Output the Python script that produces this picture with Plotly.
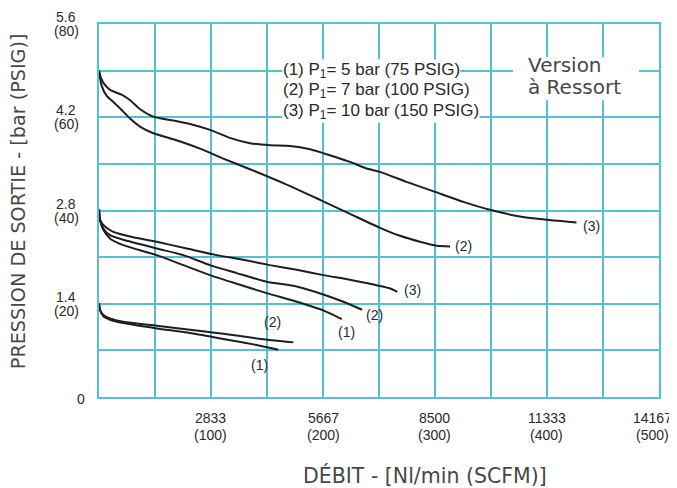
import plotly.graph_objects as go

# ---------------- data ----------------
x_tick_vals = [2833, 5667, 8500, 11333, 14167]
x_tick_nl = ["2833", "5667", "8500", "11333", "14167"]
x_tick_scfm = ["(100)", "(200)", "(300)", "(400)", "(500)"]
y_tick_vals = [1.4, 2.8, 4.2, 5.6]
y_tick_bar = ["1.4", "2.8", "4.2", "5.6"]
y_tick_psig = ["(20)", "(40)", "(60)", "(80)"]

# upper group (set ~4.9 bar)
hi3_x = [0, 50, 130, 280, 570, 780, 1040, 1370, 1880, 2300, 2810, 3310, 3820, 4330, 4830,
         5340, 5840, 6350, 6770, 7110, 7780, 8500, 9220, 9890, 10650, 11330, 12080]
hi3_y = [4.9, 4.79, 4.7, 4.61, 4.54, 4.46, 4.32, 4.21, 4.15, 4.1, 4.01, 3.89, 3.81, 3.78, 3.77,
         3.72, 3.63, 3.53, 3.43, 3.38, 3.23, 3.08, 2.93, 2.81, 2.71, 2.66, 2.62]
hi2_x = [0, 68, 195, 362, 574, 784, 1037, 1374, 1880, 2555, 3144, 3820, 4706, 5591, 6350,
         7109, 7615, 8121, 8543, 8880]
hi2_y = [4.9, 4.67, 4.52, 4.43, 4.31, 4.18, 4.06, 3.96, 3.87, 3.73, 3.58, 3.42, 3.2, 2.96, 2.75,
         2.54, 2.42, 2.33, 2.27, 2.26]

# middle group (set ~2.8 bar)
mid3_x = [0, 25, 152, 362, 784, 1460, 2219, 2978, 3651, 4326, 5002, 5675, 6434, 7370, 7547]
mid3_y = [2.82, 2.66, 2.56, 2.48, 2.41, 2.33, 2.23, 2.13, 2.06, 1.98, 1.91, 1.83, 1.75, 1.63, 1.58]
mid2_x = [0, 25, 109, 278, 615, 1460, 2133, 2808, 3484, 4243, 5002, 5675, 6181, 6654]
mid2_y = [2.82, 2.66, 2.53, 2.43, 2.36, 2.23, 2.13, 1.98, 1.86, 1.73, 1.66, 1.54, 1.43, 1.31]
mid1_x = [0, 25, 109, 278, 615, 1460, 2133, 2808, 3484, 4243, 5002, 5675, 6140]
mid1_y = [2.82, 2.66, 2.51, 2.38, 2.28, 2.13, 1.98, 1.83, 1.7, 1.56, 1.43, 1.3, 1.17]

# lower group (set ~1.4 bar)
lo2_x = [0, 25, 109, 278, 615, 1460, 2302, 3144, 3990, 4916]
lo2_y = [1.41, 1.31, 1.23, 1.18, 1.13, 1.07, 1.01, 0.95, 0.88, 0.82]
lo1_x = [0, 25, 109, 278, 615, 1460, 2302, 3144, 3990, 4536]
lo1_y = [1.41, 1.31, 1.21, 1.16, 1.11, 1.03, 0.96, 0.87, 0.78, 0.71]

curve_label_text = ["(3)", "(2)", "(3)", "(2)", "(1)", "(2)", "(1)"]
curve_label_x = [12470, 9210, 7940, 6960, 6270, 4380, 4050]
curve_label_y = [2.57, 2.26, 1.6, 1.23, 0.98, 1.12, 0.48]

legend_lines = ["(1) P<sub>1</sub>= 5 bar (75 PSIG)",
                "(2) P<sub>1</sub>= 7 bar (100 PSIG)",
                "(3) P<sub>1</sub>= 10 bar (150 PSIG)"]
legend_y = [4.896, 4.595, 4.291]
legend_x = 4630

version_lines = ["Version", "à Ressort"]
version_y = [4.98, 4.65]
version_x = 10800

x_title = "DÉBIT - [Nl/min (SCFM)]"
y_title = "PRESSION DE SORTIE - [bar (PSIG)]"

# ---------------- styles ----------------
GRID = "#52c3cc"
INK = "#1e1e1e"
TXT = "#2a2a2a"
TITLE = "#474747"
FONT = "Liberation Sans"

fig = go.Figure()
for xs, ys in [(hi3_x, hi3_y), (hi2_x, hi2_y), (mid3_x, mid3_y), (mid2_x, mid2_y),
               (mid1_x, mid1_y), (lo2_x, lo2_y), (lo1_x, lo1_y)]:
    fig.add_trace(go.Scatter(x=xs, y=ys, mode="lines",
                             line=dict(color=INK, width=2, shape="spline", smoothing=0.6),
                             hoverinfo="skip", showlegend=False))

ann = []
for t, x, y in zip(curve_label_text, curve_label_x, curve_label_y):
    ann.append(dict(x=x, y=y, text=t, showarrow=False, xanchor="center", yanchor="middle",
                    font=dict(family=FONT, size=14, color=TXT)))

for t, y in zip(legend_lines, legend_y):
    ann.append(dict(x=legend_x, y=y, text=t, showarrow=False, xanchor="left", yanchor="middle",
                    bgcolor="white", borderpad=0, height=21,
                    font=dict(family=FONT, size=17, color=TXT)))

for t, y in zip(version_lines, version_y):
    ann.append(dict(x=version_x, y=y, text=t, showarrow=False, xanchor="left", yanchor="middle",
                    font=dict(family="DejaVu Sans", size=20, color=TITLE)))

# tick labels
for v, a, b in zip(x_tick_vals, x_tick_nl, x_tick_scfm):
    xs = -7 if v == x_tick_vals[-1] else 0
    ann.append(dict(x=v, y=0, yref="paper", text=a, showarrow=False, xanchor="center",
                    yanchor="middle", yshift=-21, xshift=xs,
                    font=dict(family=FONT, size=14, color=TXT)))
    ann.append(dict(x=v, y=0, yref="paper", text=b, showarrow=False, xanchor="center",
                    yanchor="middle", yshift=-38, xshift=xs,
                    font=dict(family=FONT, size=14, color=TXT)))
for v, a, b in zip(y_tick_vals, y_tick_bar, y_tick_psig):
    ann.append(dict(x=0, xref="paper", y=v, text=a, showarrow=False, xanchor="center",
                    yanchor="middle", xshift=-33, yshift=7,
                    font=dict(family=FONT, size=14, color=TXT)))
    ann.append(dict(x=0, xref="paper", y=v, text=b, showarrow=False, xanchor="center",
                    yanchor="middle", xshift=-33, yshift=-7,
                    font=dict(family=FONT, size=14, color=TXT)))
ann.append(dict(x=0, xref="paper", y=0, text="0", showarrow=False, xanchor="center",
                yanchor="middle", xshift=-18, yshift=-2,
                font=dict(family=FONT, size=14, color=TXT)))

# axis titles
ann.append(dict(x=0.5816, xref="paper", y=0, yref="paper", text=x_title, showarrow=False,
                xanchor="center", yanchor="middle", yshift=-78,
                font=dict(family="DejaVu Sans", size=20.5, color=TITLE)))
ann.append(dict(x=0, xref="paper", y=0.525, yref="paper", text=y_title, showarrow=False,
                xanchor="center", yanchor="middle", xshift=-81, textangle=-90,
                font=dict(family="DejaVu Sans", size=19.2, color=TITLE)))

shapes = [dict(type="rect", xref="x", yref="y", x0=10474, x1=13662, y0=4.457, y1=5.102,
               fillcolor="white", line=dict(width=0), layer="above")]

fig.update_layout(
    width=669, height=480,
    margin=dict(l=91, r=18, t=16, b=91),
    plot_bgcolor="white", paper_bgcolor="white",
    annotations=ann, shapes=shapes,
    xaxis=dict(range=[0, 14167], tick0=0, dtick=14167 / 10, showgrid=True,
               gridcolor=GRID, gridwidth=2, showticklabels=False, ticks="",
               showline=True, linecolor=GRID, linewidth=2, mirror=True, zeroline=False),
    yaxis=dict(range=[0, 5.6], tick0=0, dtick=0.7, showgrid=True,
               gridcolor=GRID, gridwidth=2, showticklabels=False, ticks="",
               showline=True, linecolor=GRID, linewidth=2, mirror=True, zeroline=False),
)

fig.write_html("out.html")
